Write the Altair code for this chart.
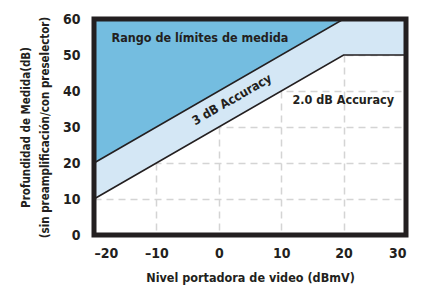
import altair as alt
import pandas as pd

# data
x_pts = [-20, 20, 30]
lower = [10, 50, 50]
upper = [20, 60, 60]
top = [60, 60, 60]
x_ticks = [-20, -10, 0, 10, 20, 30]
y_ticks = [0, 10, 20, 30, 40, 50, 60]
inner_ticks = [-10, 0, 10, 20]

df = pd.DataFrame({"x": x_pts, "lower": lower, "upper": upper, "top": top})
ticks_df = pd.DataFrame({"t": inner_ticks})

FONT = "DejaVu Sans Condensed, Roboto, sans-serif"
W, H = 312, 216
INK = "#231f20"

xs = alt.Scale(domain=[-20, 30], nice=False, zero=False)
ys = alt.Scale(domain=[0, 60], nice=False, zero=False)

xax = alt.Axis(values=x_ticks, title="Nivel portadora de video (dBmV)",
               labelExpr="datum.value < 0 ? '–' + abs(datum.value) : datum.label",
               grid=True, gridDash=[7, 5], gridColor="#d4d4d4", gridWidth=1.5,
               ticks=False, domain=False, labelPadding=11, titlePadding=11,
               labelOverlap=False, labelBound=False,
               labelFont=FONT, labelFontSize=14, labelFontWeight="bold", labelColor=INK,
               titleFont=FONT, titleFontSize=12.5, titleFontWeight="bold", titleColor=INK)
yax = alt.Axis(values=y_ticks, title=["Profundidad de Medida(dB)", "(sin preamplificación/con preselector)"],
               grid=True, gridDash=[7, 5], gridColor="#d4d4d4", gridWidth=1.5,
               ticks=False, domain=False, labelPadding=14, titlePadding=12,
               labelOverlap=False, labelBound=False,
               labelFont=FONT, labelFontSize=14, labelFontWeight="bold", labelColor=INK,
               titleFont=FONT, titleFontSize=11.5, titleFontWeight="bold", titleColor=INK,
               titleLineHeight=19)


def X(field):
    return alt.X(field, scale=xs, axis=xax)


def Y(field):
    return alt.Y(field, scale=ys, axis=yax)


base = alt.Chart(df)
dark_area = base.mark_area(color="#74bde0", opacity=1).encode(
    x=X("x:Q"), y=Y("upper:Q"), y2="top:Q")
light_area = base.mark_area(color="#d4e7f5", opacity=1).encode(
    x=X("x:Q"), y=Y("lower:Q"), y2="upper:Q")
line_up = base.mark_line(color=INK, strokeWidth=1.6).encode(
    x=X("x:Q"), y=Y("upper:Q"))
line_lo = base.mark_line(color=INK, strokeWidth=1.6).encode(
    x=X("x:Q"), y=Y("lower:Q"))

border = alt.Chart(pd.DataFrame({"a": [0]})).mark_rect(
    fill=None, stroke=INK, strokeWidth=5).encode(
    x=alt.value(0), x2=alt.value(W), y=alt.value(0), y2=alt.value(H))

gaps = alt.Chart(ticks_df).mark_rule(color="white", strokeWidth=1.5).encode(
    x=X("t:Q"), y=alt.value(H - 3), y2=alt.value(H + 3))

txt_font = dict(font=FONT, fontWeight="bold", color=INK, fontSize=12.5)
t1 = alt.Chart(pd.DataFrame({"x": [-17.2], "y": [54.6], "s": ["Rango de límites de medida"]})).mark_text(
    align="left", baseline="middle", **txt_font).encode(
    x=X("x:Q"), y=Y("y:Q"), text="s:N")
t2 = alt.Chart(pd.DataFrame({"x": [2.1], "y": [37.6], "s": ["3 dB Accuracy"]})).mark_text(
    align="center", baseline="middle", angle=330, **txt_font).encode(
    x=X("x:Q"), y=Y("y:Q"), text="s:N")
t3 = alt.Chart(pd.DataFrame({"x": [11.8], "y": [37.6], "s": ["2.0 dB Accuracy"]})).mark_text(
    align="left", baseline="middle", **txt_font).encode(
    x=X("x:Q"), y=Y("y:Q"), text="s:N")

chart = alt.layer(dark_area, light_area, line_up, line_lo, gaps, border, t1, t2, t3).properties(
    width=W, height=H,
    autosize=alt.AutoSizeParams(type="none"),
    padding={"left": 86, "top": 11, "right": 7, "bottom": 50},
).configure_view(stroke=None)

chart.save("out.html", embed_options={"renderer": "svg", "actions": False})
